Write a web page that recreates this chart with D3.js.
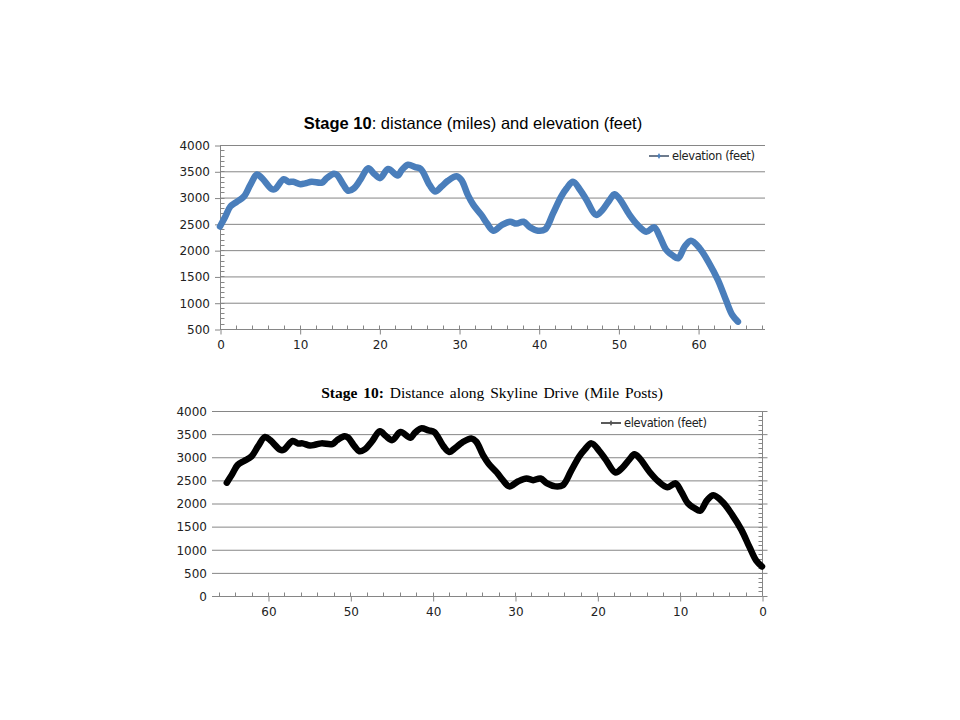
<!DOCTYPE html>
<html>
<head>
<meta charset="utf-8">
<script src="https://cdn.jsdelivr.net/npm/d3@7"></script>
<style>
  body { margin: 0; background: #fff; }
  .tick text { font-family: "DejaVu Sans", sans-serif; font-size: 12px; fill: #222; }
</style>
</head>
<body>
<svg id="chart" width="960" height="720"></svg>
<script>
'use strict';

// distance from start (miles)
const distance = [0, 0.67, 1.3, 2.1, 3.0, 3.8, 4.64, 5.27, 6.5, 6.9, 8.0, 8.6, 9.2, 10.1, 10.7, 11.5,
  12.8, 13.4, 14.3, 14.7, 15.5, 16.1, 16.8, 17.6, 18.6, 19.3, 20.1, 21.1, 22.3, 22.8, 23.6, 24.5, 25.2,
  26.3, 27.0, 27.8, 28.6, 29.7, 30.3, 31.1, 31.8, 32.8, 33.5, 34.3, 35.4, 36.4, 37.2, 38.1, 38.9, 39.9,
  40.8, 41.8, 42.8, 43.5, 44.3, 45.2, 46.0, 47.2, 48.0, 48.9, 49.5, 50.1, 51.4, 52.4, 53.5, 54.5, 55.2,
  56.0, 56.8, 57.5, 58.3, 59.1, 60.2, 61.4, 62.5, 63.5, 64.3, 65.0];

// elevation (feet)
const elevation = [2450, 2640, 2830, 2920, 3020, 3240, 3440, 3370, 3160, 3160, 3350, 3300, 3300, 3255, 3270, 3300,
  3285, 3370, 3455, 3430, 3240, 3130, 3175, 3335, 3560, 3460, 3370, 3545, 3420, 3520, 3625, 3580, 3545,
  3240, 3115, 3210, 3320, 3405, 3335, 3050, 2860, 2670, 2510, 2370, 2480, 2540, 2505, 2540, 2435, 2370,
  2395, 2700, 3015, 3175, 3300, 3145, 2955, 2670, 2765, 2955, 3065, 2985, 2670, 2480, 2350, 2435, 2255,
  2005, 1900, 1845, 2065, 2180, 2035, 1750, 1430, 1050, 765, 640];

// the bottom chart counts Skyline Drive mile posts down to 0 at the end of the stage
const stageLength = 65.0;
const milePost = distance.map(d => stageLength - d);

const topXTicks = [0, 10, 20, 30, 40, 50, 60];
const topYTicks = [500, 1000, 1500, 2000, 2500, 3000, 3500, 4000];
const bottomXTicks = [60, 50, 40, 30, 20, 10, 0];
const bottomYTicks = [0, 500, 1000, 1500, 2000, 2500, 3000, 3500, 4000];

const seriesName = 'elevation (feet)';

const svg = d3.select('#chart');
const gridColor = '#868686';

function drawPanel(opts) {
  const g = svg.append('g');
  const x = d3.scaleLinear().domain(opts.xDomain).range(opts.xRange);
  const y = d3.scaleLinear().domain(opts.yDomain).range(opts.yRange);
  const [x0, x1] = opts.xRange;
  const [yb, yt] = opts.yRange;
  const leftAxis = opts.yAxisX === x0;

  // horizontal gridlines
  g.append('g').selectAll('line')
    .data(opts.yTicks)
    .join('line')
    .attr('x1', x0).attr('x2', x1)
    .attr('y1', d => y(d) + 0.5).attr('y2', d => y(d) + 0.5)
    .attr('stroke', gridColor).attr('stroke-width', 1);

  // y labels
  const yLab = g.append('g')
    .attr('transform', 'translate(' + opts.yLabelX + ',0.5)')
    .call(d3.axisLeft(y).tickValues(opts.yTicks).tickSize(leftAxis ? 5 : 0).tickPadding(5).tickFormat(d3.format('d')));
  yLab.select('.domain').remove();
  yLab.selectAll('.tick line').attr('stroke', gridColor);

  // y axis line with minor ticks
  const ax = opts.yAxisX + 0.5;
  const minorY = d3.range(opts.yDomain[0], opts.yDomain[1] + 1, 100);
  const inside = leftAxis ? 1 : -1;
  g.append('line')
    .attr('x1', ax).attr('x2', ax).attr('y1', yt).attr('y2', yb)
    .attr('stroke', gridColor);
  g.append('g').selectAll('line')
    .data(minorY)
    .join('line')
    .attr('x1', ax).attr('x2', ax + inside * 4)
    .attr('y1', d => Math.round(y(d)) + 0.5).attr('y2', d => Math.round(y(d)) + 0.5)
    .attr('stroke', gridColor);
  if (!leftAxis) {
    g.append('g').selectAll('line')
      .data(opts.yTicks)
      .join('line')
      .attr('x1', ax).attr('x2', ax + 5)
      .attr('y1', d => y(d) + 0.5).attr('y2', d => y(d) + 0.5)
      .attr('stroke', gridColor);
  }

  // x axis
  const xAx = g.append('g')
    .attr('transform', 'translate(0.5,' + (yb + 0.5) + ')')
    .call(d3.axisBottom(x).tickValues(opts.xTicks).tickSize(5).tickPadding(6).tickFormat(d3.format('d')));
  xAx.select('.domain').remove();
  xAx.selectAll('.tick line').attr('stroke', gridColor);
  g.append('line')
    .attr('x1', x0).attr('x2', x1).attr('y1', yb + 0.5).attr('y2', yb + 0.5)
    .attr('stroke', gridColor);
  const lo = Math.min(opts.xDomain[0], opts.xDomain[1]);
  const hi = Math.max(opts.xDomain[0], opts.xDomain[1]);
  g.append('g').selectAll('line')
    .data(d3.range(0, hi + 0.01, 2).filter(d => d >= lo))
    .join('line')
    .attr('x1', d => Math.round(x(d)) + 0.5).attr('x2', d => Math.round(x(d)) + 0.5)
    .attr('y1', yb + 0.5).attr('y2', yb - 3.5)
    .attr('stroke', gridColor);

  // series
  const line = d3.line()
    .x((d, i) => x(opts.xs[i]))
    .y(d => y(d))
    .curve(d3.curveCatmullRom.alpha(0.5));
  g.append('path')
    .datum(elevation)
    .attr('d', line)
    .attr('fill', 'none')
    .attr('stroke', opts.color)
    .attr('stroke-width', 6.5)
    .attr('stroke-linejoin', 'round')
    .attr('stroke-linecap', 'round');

  // legend
  const lg = g.append('g').attr('transform', 'translate(' + opts.legend[0] + ',' + opts.legend[1] + ')');
  lg.append('line').attr('x1', 0).attr('x2', 20).attr('y1', 0).attr('y2', 0)
    .attr('stroke', opts.legendLine).attr('stroke-width', 1.3);
  lg.append('path').attr('d', d3.symbol(d3.symbolDiamond, 10)())
    .attr('transform', 'translate(10,0)').attr('fill', opts.legendDot);
  lg.append('text')
    .attr('x', 23).attr('y', 4)
    .attr('font-family', '"DejaVu Sans", sans-serif').attr('font-size', 11.5)
    .attr('fill', '#222')
    .attr('textLength', 83).attr('lengthAdjust', 'spacing')
    .text(seriesName);

  // title
  const t = svg.append('text')
    .attr('x', opts.title.x).attr('y', opts.title.y)
    .attr('text-anchor', 'middle')
    .attr('font-family', opts.title.font).attr('font-size', opts.title.size)
    .attr('word-spacing', opts.title.wordSpacing)
    .attr('fill', '#000');
  t.append('tspan').attr('font-weight', 'bold').text(opts.title.bold);
  t.append('tspan').text(opts.title.rest);
}

drawPanel({
  xDomain: [0, 68.4], xRange: [220, 765],
  yDomain: [500, 4000], yRange: [329, 145],
  xTicks: topXTicks, yTicks: topYTicks,
  xs: distance,
  yLabelX: 220, yAxisX: 220,
  color: '#4a7ebb', legendLine: '#1f3350', legendDot: '#4a7ebb',
  legend: [649, 156],
  title: { x: 473, y: 129, font: '"Liberation Sans", Arial, sans-serif', size: 16.5, wordSpacing: 0,
    bold: 'Stage 10', rest: ': distance (miles) and elevation (feet)' }
});

drawPanel({
  xDomain: [66.8, 0], xRange: [212, 762],
  yDomain: [0, 4000], yRange: [596, 411],
  xTicks: bottomXTicks, yTicks: bottomYTicks,
  xs: milePost,
  yLabelX: 212, yAxisX: 762,
  color: '#000', legendLine: '#000', legendDot: '#555',
  legend: [601, 423],
  title: { x: 492, y: 398, font: '"Liberation Serif", "Times New Roman", serif', size: 15.5, wordSpacing: 2,
    bold: 'Stage 10:', rest: ' Distance along Skyline Drive (Mile Posts)' }
});
</script>
</body>
</html>
